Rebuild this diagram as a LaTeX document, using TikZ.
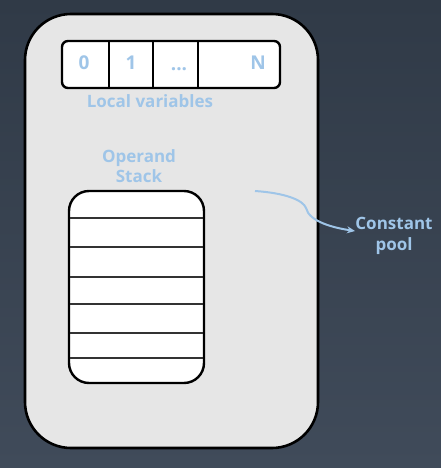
\documentclass[tikz,border=0pt]{standalone}
\usepackage{fontspec}
\setmainfont{Open Sans}
\usetikzlibrary{arrows.meta}
\definecolor{bgtop}{HTML}{303A47}
\definecolor{bgbot}{HTML}{404B5A}
\definecolor{boxfill}{HTML}{E6E6E6}
\definecolor{lblue}{HTML}{9FC5E8}
\definecolor{linegray}{HTML}{333333}
\begin{document}
\begin{tikzpicture}[x=1pt,y=-1pt,
  lbl/.style={text=lblue,font=\fontsize{17}{20.5}\selectfont\bfseries,inner sep=0pt,align=center},
  cell/.style={text=lblue,font=\fontsize{19}{21}\selectfont\bfseries,inner sep=0pt},
  sep/.style={line width=1.8pt,draw=black},
  row/.style={line width=1.6pt,draw=linegray}]
\useasboundingbox (0,0) rectangle (441,468);
\shade[top color=bgtop,bottom color=bgbot] (0,0) rectangle (441,468);
% outer frame
\draw[line width=2.6pt,fill=boxfill,rounded corners=46pt] (25,14) rectangle (318,448);
% local variables
\draw[line width=2.4pt,fill=white,rounded corners=6pt] (62,41) rectangle (280,88);
\draw[sep] (109,41) -- (109,88);
\draw[sep] (153,41) -- (153,88);
\draw[sep] (198,41) -- (198,88);
\node[cell] (c0) at (84,63) {0};
\node[cell] (c1) at (131,63) {1};
\node[cell,anchor=base] (c2) at (179,71) {...};
\node[cell] (cN) at (258,63) {N};
\node[lbl] (lv) at (150,101) {Local variables};
\node[lbl] (os) at (139,166) {Operand\\Stack};
% stack
\draw[line width=2.4pt,fill=white,rounded corners=20pt] (69,191) rectangle (204,383);
\foreach \yy in {218,247,277,304,333,358} \draw[row] (70,\yy) -- (203,\yy);
% constant pool
\node[lbl] (cp) at (394,236) {Constant\\pool};
\coordinate (s) at (255,191);
\coordinate (e) at (355,231);
\draw[draw=lblue,line width=2pt,-{Stealth[length=8pt,width=7pt]}]
  (s) .. controls (285,193) and (303,200) .. (306,208)
  .. controls (309,222) and (335,228) .. (e);
\end{tikzpicture}
\end{document}
